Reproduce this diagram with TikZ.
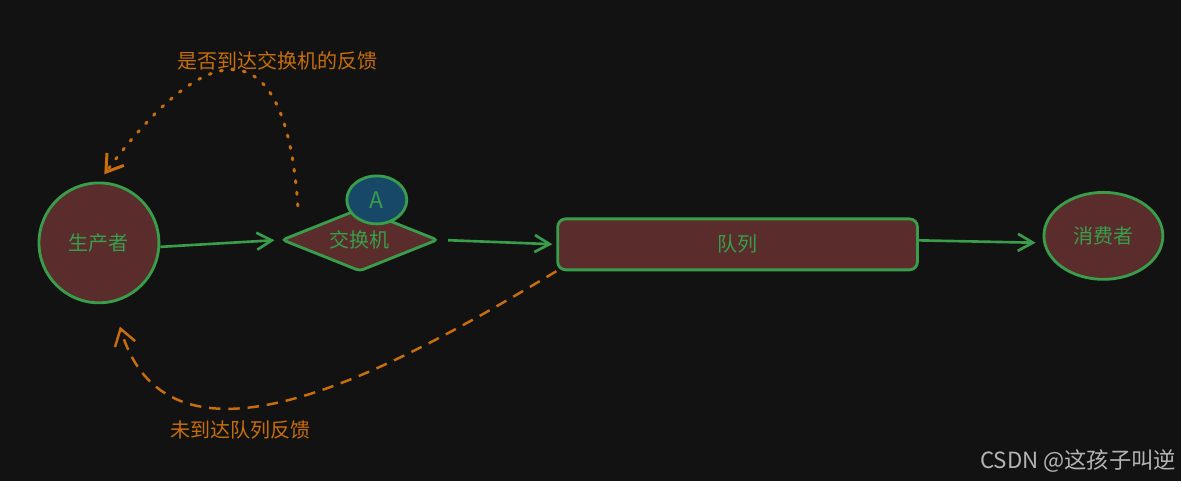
\documentclass[tikz,border=0pt]{standalone}
\usepackage{fontspec}
\setmainfont{Noto Sans CJK SC}
\usetikzlibrary{positioning}
\usetikzlibrary{shapes.geometric}
\usetikzlibrary{arrows.meta}
\definecolor{bgDark}{HTML}{121212}
\definecolor{roleFill}{HTML}{5A2C2C}
\definecolor{lineGreen}{HTML}{389E4A}
\definecolor{tagBlue}{HTML}{184868}
\definecolor{noteOrange}{HTML}{C86E0C}
\definecolor{markGray}{HTML}{B4B4B4}
\tikzset{>={Straight Barb[length=0.3cm, width=0.34cm]}}
\tikzset{role/.style={draw=lineGreen, fill=roleFill, line width=1.6pt, text=lineGreen, inner sep=0pt, font=\fontsize{11.4}{13}\selectfont}}
\tikzset{exch/.style={role, diamond, aspect=2.5, minimum width=3.12cm, minimum height=1.26cm, rounded corners=2pt}}
\tikzset{que/.style={role, rectangle, minimum width=7.2cm, minimum height=1.02cm, rounded corners=0.16cm}}
\tikzset{tag/.style={role, ellipse, fill=tagBlue, minimum width=1.2cm, minimum height=0.96cm, font=\fontsize{13}{15}\selectfont}}
\tikzset{flow/.style={draw=lineGreen, line width=1.5pt, ->}}
\tikzset{note/.style={text=noteOrange, font=\fontsize{11.4}{13}\selectfont}}
\tikzset{back/.style={draw=noteOrange, line width=1.4pt, ->, >={Straight Barb[length=0.32cm, width=0.42cm]}}}

\begin{document}
\begin{tikzpicture}[x=0.02cm, y=-0.02cm]

    \fill [bgDark] (0,0) rectangle (1182,481);

    \node [role, circle, minimum size=2.4cm] (producer) at (99,243) {生产者};
    \node [exch] (exchange) at (360,240) {交换机};
    \node [tag] (tagA) at (377,200) {A};
    \node [que] (queue) at (738,244.5) {队列};
    \node [role, ellipse, minimum width=2.38cm, minimum height=1.74cm] (consumer) at (1104,236) {消费者};

    \draw [flow, shorten >=0.12cm] ([yshift=-0.08cm]producer.east) -- (exchange.west);
    \draw [flow, shorten <=0.18cm, shorten >=0.08cm] (exchange.east) -- (queue.west);
    \draw [flow, shorten >=0.14cm] ([yshift=0.08cm]queue.east) -- ([yshift=-0.14cm]consumer.west);

    \coordinate (fbStart) at (298,206);
    \draw [back, line width=1.7pt, line cap=round, dash pattern=on 1.2pt off 5.4pt, shorten >=0.18cm]
        (fbStart) .. controls (285,15) and (200,45) .. (producer.north);
    \draw [back, dash pattern=on 6.5pt off 4.5pt, shorten >=0.5cm]
        (queue.south west) .. controls (400,365) and (170,495) .. (producer.-77);

    \node [note] (noteTop) at (278,61) {是否到达交换机的反馈};
    \node [note] (noteBottom) at (241,430) {未到达队列反馈};
    \node [text=markGray, anchor=east, font=\fontsize{12.7}{14}\selectfont] (mark) at (1183,461) {CSDN @这孩子叫逆};

\end{tikzpicture}
\end{document}
